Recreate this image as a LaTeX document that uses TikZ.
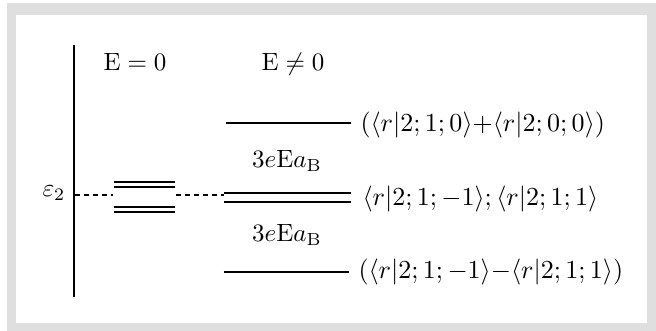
\documentclass[tikz,border=0pt]{standalone}
\usepackage{amsmath}
\begin{document}
\begin{tikzpicture}[x=0.4pt,y=-0.4pt,
  lvl/.style={line width=0.95pt},
  dsh/.style={line width=0.8pt,dash pattern=on 2pt off 1.6pt},
  lbl/.style={inner sep=0pt,anchor=base},
  st/.style={inner sep=0pt,anchor=west,scale=1.04}]
\useasboundingbox (0,0) rectangle (656,331);
\fill[gray!25] (7,3) rectangle (656,331);
\fill[white] (16,15) rectangle (647,323);
% axis
\coordinate (ax1) at (74,45);
\coordinate (ax2) at (74,297);
\draw[line width=0.95pt] (ax1) -- (ax2);
\node[lbl] (eps) at (54,197) {$\varepsilon_2$};
\node[lbl] (e0) at (135,71) {$\mathrm{E}=0$};
\node[lbl] (en) at (293,71) {$\mathrm{E}\neq0$};
% left levels
\coordinate (la1) at (114,182); \coordinate (lb1) at (175,182);
\coordinate (la2) at (114,187); \coordinate (lb2) at (175,187);
\coordinate (la3) at (114,207); \coordinate (lb3) at (175,207);
\coordinate (la4) at (114,212); \coordinate (lb4) at (175,212);
\draw[lvl] (la1) -- (lb1); \draw[lvl] (la2) -- (lb2);
\draw[lvl] (la3) -- (lb3); \draw[lvl] (la4) -- (lb4);
% dashed
\coordinate (d0) at (75,195); \coordinate (d1) at (113,195);
\coordinate (d2) at (176,195); \coordinate (d3) at (224,195);
\draw[dsh] (d0) -- (d1);
\draw[dsh] (d2) -- (d3);
% right levels
\coordinate (ra1) at (226,123); \coordinate (rb1) at (351,123);
\coordinate (ra2) at (224,193); \coordinate (rb2) at (351,193);
\coordinate (ra3) at (224,202); \coordinate (rb3) at (351,202);
\coordinate (ra4) at (224,272); \coordinate (rb4) at (349,272);
\draw[lvl] (ra1) -- (rb1);
\draw[lvl] (ra2) -- (rb2);
\draw[lvl] (ra3) -- (rb3);
\draw[lvl] (ra4) -- (rb4);
\node[lbl] (g1) at (287,168) {$3e\mathrm{E}a_{\mathrm{B}}$};
\node[lbl] (g2) at (287,242) {$3e\mathrm{E}a_{\mathrm{B}}$};
\node[st] (s1) at (360,125) {$(\langle r|2;1;0\rangle{+}\langle r|2;0;0\rangle)$};
\node[st] (s2) at (362,199) {$\langle r|2;1;-1\rangle;\langle r|2;1;1\rangle$};
\node[st] (s3) at (358,272) {$(\langle r|2;1;-1\rangle{-}\langle r|2;1;1\rangle)$};
\end{tikzpicture}
\end{document}
